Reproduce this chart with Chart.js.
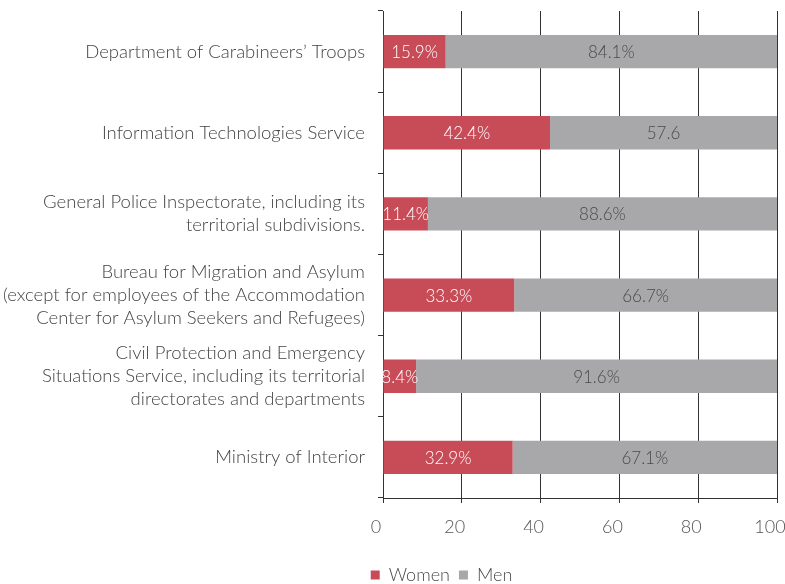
<!DOCTYPE html>
<html lang="en">
<head>
    <meta charset="UTF-8">
    <script src="https://cdn.jsdelivr.net/npm/chart.js"></script>
    <title>Women and men by subdivision</title>
    <style>
        html, body { margin: 0; padding: 0; background: #fff; }
        #wrap { width: 785px; height: 584px; }
    </style>
</head>
<body>
    <div id="wrap">
      <canvas id="myChart"></canvas>
    </div>
    <script>
        const units = [
            'Department of Carabineers’ Troops',
            'Information Technologies Service',
            ['General Police Inspectorate, including its', 'territorial subdivisions.'],
            ['Bureau for Migration and Asylum', '(except for employees of the Accommodation', 'Center for Asylum Seekers and Refugees)'],
            ['Civil Protection and Emergency', 'Situations Service, including its territorial', 'directorates and departments'],
            'Ministry of Interior'
        ]
        const women = [15.9, 42.4, 11.4, 33.3, 8.4, 32.9]
        const men = [84.1, 57.6, 88.6, 66.7, 91.6, 67.1]
        const womenLabels = ['15.9%', '42.4%', '11.4%', '33.3%', '8.4%', '32.9%']
        const menLabels = ['84.1%', '57.6', '88.6%', '66.7%', '91.6%', '67.1%']
        const xTicks = [0, 20, 40, 60, 80, 100]

        const FONT = 'Lato'

        // draws the value text in the middle of each bar piece
        const barText = {
            id: 'barText',
            afterDatasetsDraw(chart) {
                const ctx = chart.ctx
                const texts = [womenLabels, menLabels]
                const colors = ['#ffffff', '#4a4a4a']
                ctx.save()
                ctx.font = '300 17px ' + FONT
                ctx.textAlign = 'center'
                ctx.textBaseline = 'middle'
                chart.data.datasets.forEach((ds, i) => {
                    chart.getDatasetMeta(i).data.forEach((bar, j) => {
                        const p = bar.getProps(['x', 'y', 'base'], true)
                        ctx.fillStyle = colors[i]
                        ctx.fillText(texts[i][j], (p.x + p.base) / 2, p.y + 1)
                    })
                })
                ctx.restore()
            }
        }

        // nudge the legend right and down like in the original
        const legendShift = {
            id: 'legendShift',
            afterLayout(chart) {
                const lg = chart.legend
                lg.left += 53
                lg.right += 53
                lg.top += 10
                lg.bottom += 10
            }
        }

        const ctx = document.getElementById('myChart');
        new Chart(ctx, {
            type: 'bar',
            data: {
                labels: units,
                datasets: [{
                    label: 'Women',
                    data: women,
                    backgroundColor: '#c84c58',
                    borderWidth: 0,
                    barPercentage: 0.41,
                    categoryPercentage: 1
                }, {
                    label: 'Men',
                    data: men,
                    backgroundColor: '#a8a8ab',
                    borderWidth: 0,
                    barPercentage: 0.41,
                    categoryPercentage: 1
                }]
            },
            options: {
                indexAxis: 'y',
                responsive: true,
                maintainAspectRatio: false,
                animation: false,
                layout: { padding: { top: 11, right: 8, left: 0, bottom: 0 } },
                plugins: {
                    legend: {
                        position: 'bottom',
                        labels: {
                            boxWidth: 9,
                            boxHeight: 9,
                            padding: 9,
                            color: '#4a4a4a',
                            font: { family: FONT, size: 18, weight: '300' }
                        }
                    },
                    tooltip: { enabled: false }
                },
                scales: {
                    x: {
                        stacked: true,
                        min: 0,
                        max: 100,
                        afterBuildTicks(scale) {
                            scale.ticks = xTicks.map(v => ({ value: v }))
                        },
                        afterFit(scale) {
                            scale.height = 49
                            scale.paddingLeft = 0
                            scale.paddingRight = 0
                        },
                        grid: {
                            color: '#333333',
                            lineWidth: 1,
                            tickLength: 5
                        },
                        border: { color: '#333333' },
                        ticks: {
                            color: '#555555',
                            padding: 13,
                            labelOffset: -7,
                            font: { family: FONT, size: 18, weight: '300' }
                        }
                    },
                    y: {
                        stacked: true,
                        afterFit(scale) {
                            scale.width = 383
                            scale.paddingTop = 0
                            scale.paddingBottom = 0
                        },
                        grid: {
                            offset: true,
                            drawOnChartArea: false,
                            color: '#333333',
                            tickLength: 5
                        },
                        border: { color: '#333333' },
                        ticks: {
                            color: '#444444',
                            padding: 13,
                            font: { family: FONT, size: 18.5, weight: '300', lineHeight: 1.25 }
                        }
                    }
                }
            },
            plugins: [barText, legendShift]
        });
    </script>
</body>
</html>
